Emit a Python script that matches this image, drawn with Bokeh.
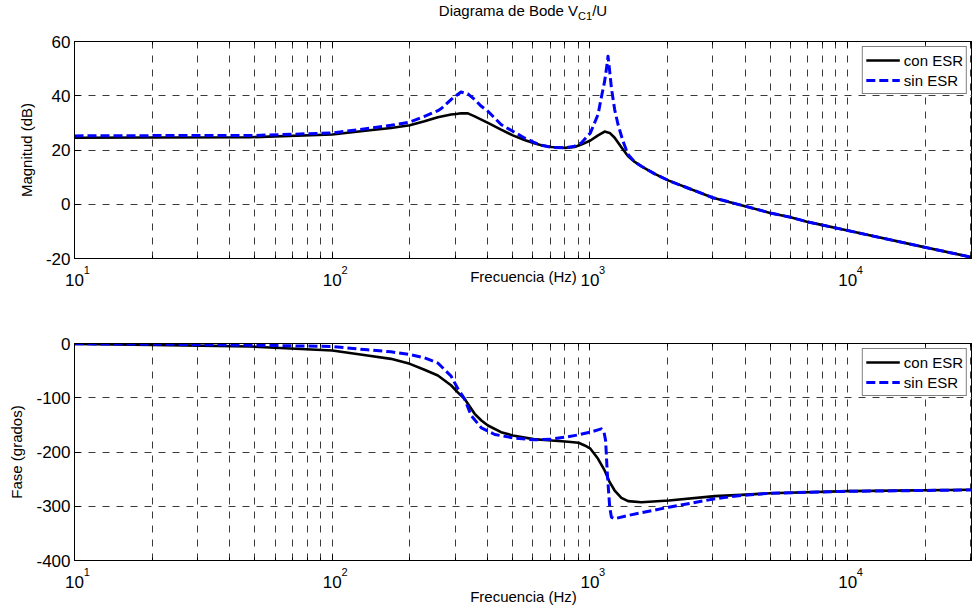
from bokeh.plotting import figure
from bokeh.models import FixedTicker, Legend, LegendItem, Div, LogAxis
from bokeh.layouts import column
from bokeh.embed import file_html
from bokeh.resources import INLINE

FONT = "Liberation Sans"

# ---------------- data ----------------
freq_mag_con = [10, 20, 48, 100, 137, 169, 200, 228, 257, 289, 303, 316, 336, 357, 402, 452, 502, 557, 604, 647,
                708, 802, 872, 926, 1004, 1075, 1140, 1193, 1247, 1324, 1406, 1492, 1584, 1784, 2023, 3000,
                4000, 5000, 6000, 7000, 8000, 10000, 20000, 30500]
mag_con = [24.5, 24.6, 24.7, 25.7, 27.2, 28.1, 29.1, 30.6, 32.1, 33.1, 33.3, 33.55, 33.5, 32.4, 30.0, 27.5, 25.4,
           23.7, 22.6, 21.75, 21.1, 20.8, 21.1, 22.0, 23.5, 25.4, 26.8, 26.3, 24.5, 21.0, 17.7, 15.6, 14.0, 11.2,
           8.7, 2.4, -0.7, -3.2, -4.8, -6.5, -7.7, -9.7, -15.9, -19.6]

freq_mag_sin = [10, 20, 48, 100, 137, 169, 200, 228, 257, 265, 289, 316, 336, 357, 379, 402, 452, 502, 557, 604,
                647, 708, 802, 872, 926, 1004, 1075, 1106, 1140, 1165, 1175, 1193, 1211, 1247, 1285, 1344, 1406,
                1492, 1584, 1784, 2023, 3000, 4000, 5000, 6000, 7000, 8000, 10000, 20000, 30500]
mag_sin = [25.2, 25.3, 25.3, 26.3, 27.9, 29.1, 30.3, 32.4, 34.5, 35.3, 38.6, 41.4, 40.7, 38.6, 36.1, 34.3, 29.4,
           26.9, 24.45, 22.9, 21.75, 21.0, 20.8, 21.4, 22.6, 26.3, 33.1, 39.2, 45.3, 51.5, 54.6, 49.0, 42.9, 34.9,
           29.4, 23.2, 18.3, 15.6, 14.0, 11.2, 8.7, 2.4, -0.7, -3.2, -4.8, -6.5, -7.7, -9.7, -15.9, -19.6]

freq_ph_con = [10, 20, 48, 100, 137, 169, 200, 228, 257, 289, 307, 326, 357, 379, 402, 452, 502, 604, 708, 802,
               903, 954, 1004, 1075, 1140, 1193, 1247, 1324, 1406, 1584, 2023, 3053, 3870, 5000, 10000, 30500]
ph_con = [-1, -2.5, -5.5, -13, -22.1, -28.3, -37.5, -48.5, -59, -77, -90, -102, -129.6, -141.9, -151.1, -163.4,
          -169.5, -176.3, -178.8, -180.6, -183, -188, -194, -212.5, -234, -255.6, -271, -284.5, -290.6, -292.5,
          -289.4, -281.4, -279, -276, -272.2, -269.7]

freq_ph_sin = [10, 20, 48, 100, 137, 169, 200, 228, 257, 289, 307, 326, 346, 379, 427, 502, 604, 708, 802, 903,
               1004, 1075, 1106, 1134, 1150, 1168, 1193, 1211, 1247, 1406, 2023, 3053, 3870, 5000, 10000, 30500]
ph_sin = [-0.5, -1.2, -3, -5.5, -11.7, -15.4, -20.3, -26.4, -36, -60, -83, -102, -132.7, -155.5, -167.7, -173.9,
          -177.6, -176.3, -172.6, -168.4, -163.4, -159.1, -157.3, -163.4, -178.8, -240, -301.7, -320, -323, -317,
          -301.7, -286.3, -280, -276, -272.5, -270]

x_major = [10, 100, 1000, 10000]
x_base_labels = ["10", "10", "10", "10"]
x_exponents = ["1", "2", "3", "4"]
x_minor = [20, 30, 40, 50, 60, 70, 80, 90, 200, 300, 400, 500, 600, 700, 800, 900,
           2000, 3000, 4000, 5000, 6000, 7000, 8000, 9000, 20000, 30000]
mag_ticks = [-20, 0, 20, 40, 60]
mag_tick_labels = ["-20", "0", "20", "40", "60"]
ph_ticks = [-400, -300, -200, -100, 0]
ph_tick_labels = ["-400", "-300", "-200", "-100", "0"]
series_names = ["con ESR", "sin ESR"]

GRID_COLOR = "#3a3a3a"
GRID_DASH = "7 7"
NBSP = "\u00a0"


def make_plot(height, b_top, b_bottom, y_range, y_ticks, y_tick_labels, y_label, xs, ys, xlab_standoff):
    p = figure(width=972, height=height, x_axis_type="log", x_range=(10, 30500), y_range=y_range,
               output_backend="svg", toolbar_location=None,
               min_border_left=74, min_border_right=0, min_border_top=b_top, min_border_bottom=b_bottom)
    p.outline_line_color = "black"
    p.outline_line_width = 1
    p.background_fill_color = "white"
    p.border_fill_color = "white"

    # axis next to the frame: ticks, axis line and the (raised) exponents
    xa = p.xaxis[0]
    xa.ticker = FixedTicker(ticks=x_major, minor_ticks=x_minor)
    xa.major_label_overrides = {t: NBSP * 8 + e for t, e in zip(x_major, x_exponents)}
    xa.major_label_text_font = FONT
    xa.major_label_text_font_size = "11px"
    xa.major_label_text_color = "black"
    xa.major_label_standoff = 5
    xa.major_tick_in = 6
    xa.major_tick_out = 0
    xa.minor_tick_in = 3
    xa.minor_tick_out = 0
    xa.axis_line_color = "black"
    xa.major_tick_line_color = "black"
    xa.minor_tick_line_color = "black"

    # second axis below: the "10" bases and the axis title
    xb = LogAxis(ticker=FixedTicker(ticks=x_major))
    xb.major_label_overrides = {t: l for t, l in zip(x_major, x_base_labels)}
    xb.major_label_text_font = FONT
    xb.major_label_text_font_size = "17px"
    xb.major_label_text_color = "black"
    xb.major_label_standoff = -5
    xb.major_tick_in = 0
    xb.major_tick_out = 0
    xb.minor_tick_in = 0
    xb.minor_tick_out = 0
    xb.axis_line_color = None
    xb.major_tick_line_color = None
    xb.minor_tick_line_color = None
    xb.axis_label = "Frecuencia (Hz)"
    xb.axis_label_text_font = FONT
    xb.axis_label_text_font_size = "15px"
    xb.axis_label_text_font_style = "normal"
    xb.axis_label_text_color = "black"
    xb.axis_label_standoff = xlab_standoff
    p.add_layout(xb, "below")

    # mirrored inward ticks along the top edge (box on)
    xt = LogAxis(ticker=FixedTicker(ticks=x_major, minor_ticks=x_minor))
    xt.major_label_overrides = {t: "" for t in x_major}
    xt.major_label_text_font_size = "0px"
    xt.major_label_standoff = 0
    xt.major_tick_in = 6
    xt.major_tick_out = 0
    xt.minor_tick_in = 3
    xt.minor_tick_out = 0
    xt.axis_line_color = "black"
    xt.major_tick_line_color = "black"
    xt.minor_tick_line_color = "black"
    p.add_layout(xt, "above")

    ya = p.yaxis[0]
    ya.ticker = FixedTicker(ticks=y_ticks)
    ya.major_label_overrides = {t: l for t, l in zip(y_ticks, y_tick_labels)}
    ya.major_label_text_font = FONT
    ya.major_label_text_font_size = "17px"
    ya.major_label_text_color = "black"
    ya.major_label_standoff = 4
    ya.major_tick_in = 6
    ya.major_tick_out = 0
    ya.minor_tick_line_color = None
    ya.axis_line_color = "black"
    ya.major_tick_line_color = "black"
    ya.axis_label = y_label
    ya.axis_label_text_font = FONT
    ya.axis_label_text_font_size = "15px"
    ya.axis_label_text_font_style = "normal"
    ya.axis_label_text_color = "black"
    ya.axis_label_standoff = 8

    g = p.xgrid[0]
    g.grid_line_color = GRID_COLOR
    g.grid_line_dash = GRID_DASH
    g.grid_line_width = 1
    g.minor_grid_line_color = GRID_COLOR
    g.minor_grid_line_dash = GRID_DASH
    g.minor_grid_line_width = 1
    p.ygrid[0].grid_line_color = GRID_COLOR
    p.ygrid[0].grid_line_dash = GRID_DASH
    p.ygrid[0].grid_line_width = 1

    r1 = p.line(xs[0], ys[0], line_color="black", line_width=2.6, line_join="round")
    r2 = p.line(xs[1], ys[1], line_color="#0000ff", line_width=3, line_dash="9 4", line_join="round")

    legend = Legend(items=[LegendItem(label=series_names[0], renderers=[r1]),
                           LegendItem(label=series_names[1], renderers=[r2])],
                    location="top_right")
    legend.margin = 5
    legend.padding = 3
    legend.spacing = 0
    legend.label_standoff = 4
    legend.glyph_width = 34
    legend.glyph_height = 20
    legend.label_height = 20
    legend.label_text_font = FONT
    legend.label_text_font_size = "15px"
    legend.label_text_color = "black"
    legend.border_line_color = "black"
    legend.border_line_width = 1
    legend.background_fill_color = "white"
    legend.background_fill_alpha = 1
    p.add_layout(legend, "center")
    return p


title = Div(text='<div style="margin-left:74px;width:898px;text-align:center;'
                 'font-family:\'Liberation Sans\',Arial,sans-serif;'
                 'font-size:15px;color:#000;padding-top:2px;line-height:18px;">'
                 'Diagrama de Bode V<sub style="font-size:11px;">C1</sub>/U</div>',
            width=972, height=22, margin=0, styles={"width": "972px"})

p1 = make_plot(278, 19, 42, (-20, 60), mag_ticks, mag_tick_labels, "Magnitud (dB)",
               [freq_mag_con, freq_mag_sin], [mag_con, mag_sin], -21)
p2 = make_plot(314, 43, 54, (-400, 0), ph_ticks, ph_tick_labels, "Fase (grados)",
               [freq_ph_con, freq_ph_sin], [ph_con, ph_sin], -3)

layout = column(title, p1, p2, spacing=0)
open("out.html", "w").write(file_html(layout, INLINE))
